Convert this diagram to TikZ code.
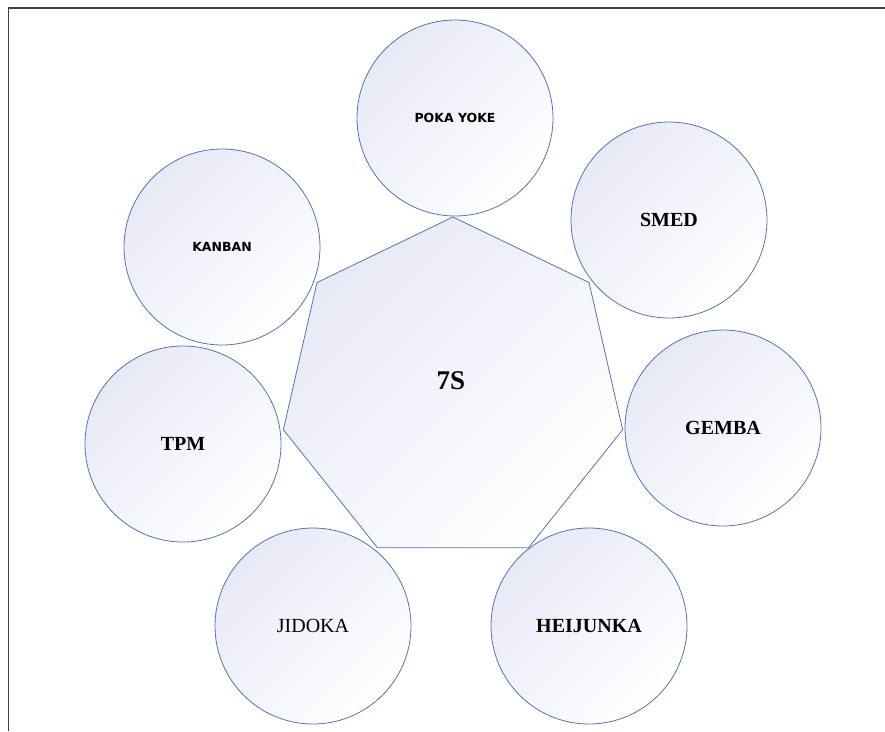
\documentclass[tikz,border=0pt]{standalone}
\usepackage{fontspec}
\setmainfont{Liberation Serif}
\newfontfamily\widesans{DejaVu Sans}
\usetikzlibrary{shapes.geometric}
\definecolor{edgeblue}{RGB}{84,116,180}
\definecolor{lavender}{RGB}{231,233,246}

\begin{document}
\begin{tikzpicture}[x=1pt, y=-1pt,
    bubble/.style={circle, draw=edgeblue, line width=0.8pt, minimum size=196pt, inner sep=0pt,
      top color=lavender, bottom color=white, shading angle=45},
    seriflabel/.style={font=\fontsize{20}{24}\selectfont\bfseries},
    sanslabel/.style={font=\widesans\fontsize{12.5}{15}\selectfont\bfseries}]
  \useasboundingbox (0,0) rectangle (885,731);

  % cadre
  \draw[line width=1.5pt, black!75] (8.5,731) -- (8.5,8) -- (885,8);

  % heptagone central
  \node[regular polygon, regular polygon sides=7, minimum size=348pt, inner sep=0pt,
    draw=edgeblue, line width=0.8pt, top color=lavender, bottom color=white, shading angle=45] (hept) at (453,391) {};
  \node[font=\fontsize{27}{30}\selectfont\bfseries] (seven) at (451,381) {7S};

  % outils autour
  \node[bubble, sanslabel] (poka) at (455,118) {POKA YOKE};
  \node[bubble, seriflabel] (smed) at (669,220) {SMED};
  \node[bubble, seriflabel] (gemba) at (723,428) {GEMBA};
  \node[bubble, seriflabel] (heij) at (589,626) {HEIJUNKA};
  \node[bubble, font=\fontsize{20}{24}\selectfont] (jidoka) at (313,626) {JIDOKA};
  \node[bubble, seriflabel] (tpm) at (183,444) {TPM};
  \node[bubble, sanslabel] (kanban) at (222,247) {KANBAN};
\end{tikzpicture}
\end{document}
